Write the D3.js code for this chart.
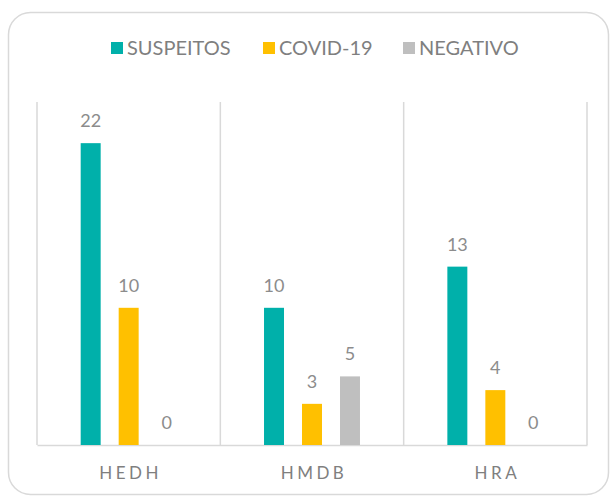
<!DOCTYPE html>
<html>
<head>
<meta charset="utf-8">
<script src="https://d3js.org/d3.v7.min.js"></script>
<style>
  body { margin: 0; background: #fff; }
  svg text { font-family: Lato, "Open Sans", sans-serif; }
</style>
</head>
<body>
<div class="graphContainer"></div>
<script>
var width = 614;
var height = 498;

var hospitals = ["HEDH", "HMDB", "HRA"];
var seriesNames = ["SUSPEITOS", "COVID-19", "NEGATIVO"];
var suspeitos = [22, 10, 13];
var covid = [10, 3, 4];
var negativo = [0, 5, 0];

var colours = ["#00b0aa", "#ffc000", "#bfbfbf"];

var margin = { top: 102, left: 37, right: 27, bottom: 53 };

var svg = d3
  .select(".graphContainer")
  .append("svg")
  .attr("width", width)
  .attr("height", height);

// card border
svg
  .append("rect")
  .attr("x", 8.5)
  .attr("y", 12.5)
  .attr("width", 600)
  .attr("height", 482)
  .attr("rx", 22)
  .attr("ry", 22)
  .style("fill", "#fff")
  .style("stroke", "#d9d9d9")
  .style("stroke-width", 1.5);

var data = hospitals.map(function (h, i) {
  return { name: h, values: [suspeitos[i], covid[i], negativo[i]] };
});

var xScale = d3
  .scaleBand()
  .domain(hospitals)
  .range([margin.left, width - margin.right]);

var xInner = d3
  .scaleBand()
  .domain(seriesNames)
  .range([0, xScale.bandwidth()])
  .paddingInner(0.474)
  .paddingOuter(1.15);

var yScale = d3
  .scaleLinear()
  .domain([0, 25])
  .range([height - margin.bottom, margin.top]);

// category dividers
var dividers = [margin.left].concat(
  hospitals.map(function (h) {
    return xScale(h) + xScale.bandwidth();
  })
);
svg
  .selectAll(".divider")
  .data(dividers)
  .enter()
  .append("line")
  .attr("class", "divider")
  .attr("x1", function (d) { return d; })
  .attr("x2", function (d) { return d; })
  .attr("y1", yScale(25))
  .attr("y2", yScale(0))
  .style("stroke", "#d9d9d9")
  .style("stroke-width", 1.5);

// x axis
var xAxis = d3.axisBottom(xScale).tickSize(0).tickPadding(22);
var xAxisGroup = svg
  .append("g")
  .attr("id", "x-axis")
  .attr("transform", "translate(0," + yScale(0) + ")")
  .call(xAxis);
xAxisGroup.select(".domain").style("stroke", "#d9d9d9").style("stroke-width", 1.5);
xAxisGroup
  .selectAll("text")
  .style("font-family", "Lato, sans-serif")
  .style("font-size", "17px")
  .style("letter-spacing", "3.5px")
  .style("fill", "#7f7f7f")
  .attr("dx", "2px");

// bars
var groups = svg
  .selectAll(".group")
  .data(data)
  .enter()
  .append("g")
  .attr("class", "group")
  .attr("transform", function (d) {
    return "translate(" + xScale(d.name) + ",0)";
  });

var cells = groups
  .selectAll("g")
  .data(function (d) {
    return d.values.map(function (v, i) {
      return { series: seriesNames[i], value: v, idx: i };
    });
  })
  .enter()
  .append("g");

cells
  .append("rect")
  .attr("x", function (d) { return xInner(d.series); })
  .attr("y", function (d) { return yScale(d.value); })
  .attr("width", xInner.bandwidth())
  .attr("height", function (d) { return yScale(0) - yScale(d.value); })
  .style("fill", function (d) { return colours[d.idx]; });

cells
  .append("text")
  .attr("x", function (d) { return xInner(d.series) + xInner.bandwidth() / 2; })
  .attr("y", function (d) { return yScale(d.value) - 16; })
  .attr("text-anchor", "middle")
  .style("font-size", "18px")
  .style("fill", "#8c8c8c")
  .text(function (d) { return d.value; });

// legend
var legendX = [111, 263, 403];
var legend = svg
  .append("g")
  .attr("id", "legend")
  .selectAll("g")
  .data(seriesNames)
  .enter()
  .append("g")
  .attr("transform", function (d, i) {
    return "translate(" + legendX[i] + ",42)";
  });
legend
  .append("rect")
  .attr("width", 12)
  .attr("height", 12)
  .style("fill", function (d, i) { return colours[i]; });
legend
  .append("text")
  .attr("x", 16)
  .attr("y", 13)
  .style("font-size", "20px")
  .style("fill", "#7f7f7f")
  .text(function (d) { return d; });
</script>
</body>
</html>
